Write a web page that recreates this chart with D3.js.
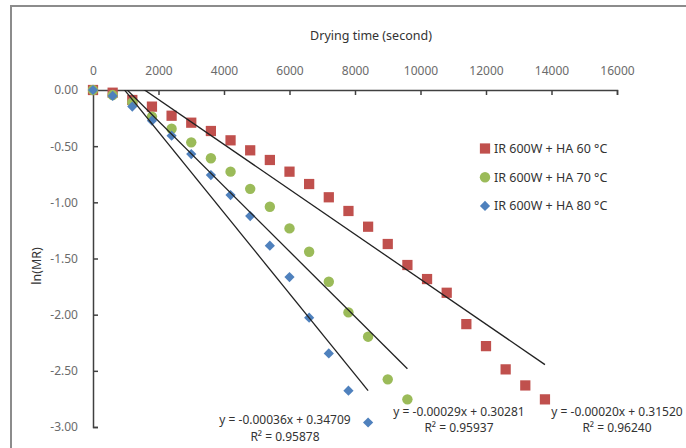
<!DOCTYPE html>
<html>
<head>
<meta charset="utf-8">
<script src="https://cdn.jsdelivr.net/npm/d3@7"></script>
<style>
  html, body { margin: 0; padding: 0; background: #fff; }
  svg { display: block; font-family: "Noto Sans", "Open Sans", sans-serif; }
</style>
</head>
<body>
<svg id="chart" width="686" height="448"></svg>
<script>
// Drying time (s) sampled every 600 s
const time60 = [0,600,1200,1800,2400,3000,3600,4200,4800,5400,6000,6600,7200,7800,8400,9000,9600,10200,10800,11400,12000,12600,13200,13800];
const lnMR60 = [0,-0.024,-0.089,-0.148,-0.229,-0.291,-0.365,-0.448,-0.537,-0.623,-0.727,-0.837,-0.955,-1.077,-1.217,-1.371,-1.558,-1.683,-1.805,-2.084,-2.280,-2.487,-2.630,-2.754];

const time70 = [0,600,1200,1800,2400,3000,3600,4200,4800,5400,6000,6600,7200,7800,8400,9000,9600];
const lnMR70 = [0,-0.045,-0.110,-0.237,-0.345,-0.466,-0.608,-0.727,-0.880,-1.039,-1.232,-1.440,-1.707,-1.980,-2.196,-2.576,-2.754];

const time80 = [0,600,1200,1800,2400,3000,3600,4200,4800,5400,6000,6600,7200,7800,8400];
const lnMR80 = [0,-0.053,-0.148,-0.273,-0.407,-0.570,-0.757,-0.935,-1.122,-1.386,-1.665,-2.027,-2.345,-2.677,-2.960];

const seriesNames = ["IR 600W + HA 60 °C", "IR 600W + HA 70 °C", "IR 600W + HA 80 °C"];
const seriesColors = ["#C0504D", "#9BBB59", "#4F81BD"];

// Linear trendline coefficients (y = slope * x + intercept) and R²
const slopes = [-0.00020, -0.00029, -0.00036];
const intercepts = [0.31520, 0.30281, 0.34709];
const rSquared = [0.96240, 0.95937, 0.95878];
const eqTexts = ["y = -0.00020x + 0.31520", "y = -0.00029x + 0.30281", "y = -0.00036x + 0.34709"];
const r2Texts = ["R² = 0.96240", "R² = 0.95937", "R² = 0.95878"];

const xTicks = [0,2000,4000,6000,8000,10000,12000,14000,16000];
const yTicks = [0,-0.5,-1,-1.5,-2,-2.5,-3];

const series = [
  { t: time60, v: lnMR60 },
  { t: time70, v: lnMR70 },
  { t: time80, v: lnMR80 }
];

const svg = d3.select("#chart");

// outer chart frame
svg.append("rect")
  .attr("x", 11).attr("y", 6)
  .attr("width", 700).attr("height", 460)
  .attr("fill", "none").attr("stroke", "#8c8c8c").attr("stroke-width", 2);

const x = d3.scaleLinear().domain([0, 16000]).range([93, 617]);
const y = d3.scaleLinear().domain([-3, 0]).range([427, 90]);

svg.append("defs").append("clipPath").attr("id", "plotClip")
  .append("rect")
  .attr("x", x(0)).attr("y", y(0))
  .attr("width", x(16000) - x(0)).attr("height", y(-3) - y(0));

// axes: x along the top (ticks pointing into the plot), y on the left
const xAxis = d3.axisTop(x).tickValues(xTicks).tickFormat(d => String(d))
  .tickSizeInner(-5).tickSizeOuter(-5).tickPadding(15);
const yAxis = d3.axisLeft(y).tickValues(yTicks).tickFormat(d => d.toFixed(2))
  .tickSizeInner(-5).tickSizeOuter(-5).tickPadding(15);

function styleAxis(g) {
  g.select(".domain").attr("stroke", "#404040").attr("stroke-width", 1.5);
  g.selectAll(".tick line").attr("stroke", "#404040").attr("stroke-width", 1.5);
  g.selectAll(".tick text").attr("fill", "#6b6b6b")
    .style("font-size", "12px").style("font-family", "'Noto Sans', sans-serif");
}

svg.append("g").attr("transform", `translate(0,${y(0)})`).call(xAxis).call(styleAxis);
svg.append("g").attr("transform", `translate(${x(0)},0)`).call(yAxis).call(styleAxis);

// axis titles
svg.append("text")
  .attr("x", 371).attr("y", 40)
  .attr("text-anchor", "middle")
  .attr("fill", "#333").style("font-size", "12.5px")
  .text("Drying time (second)");

svg.append("text")
  .attr("transform", "translate(41,266) rotate(-90)")
  .attr("text-anchor", "middle")
  .attr("fill", "#333").style("font-size", "12.5px")
  .text("ln(MR)");

// marker shapes per series
const symbols = [
  d3.symbol().type(d3.symbolSquare).size(105),
  d3.symbol().type(d3.symbolCircle).size(85),
  d3.symbol().type(d3.symbolSquare).size(52)
];
const symRotate = [0, 0, 45];

const plot = svg.append("g");
series.forEach((s, i) => {
  plot.append("g").selectAll("path")
    .data(s.t.map((t, j) => ({ t, v: s.v[j] })))
    .join("path")
    .attr("d", symbols[i]())
    .attr("transform", d => `translate(${x(d.t)},${y(d.v)}) rotate(${symRotate[i]})`)
    .attr("fill", seriesColors[i]);
});

// trendlines, clipped to the plot area
const trend = svg.append("g").attr("clip-path", "url(#plotClip)");
series.forEach((s, i) => {
  const tEnd = d3.max(s.t);
  trend.append("line")
    .attr("x1", x(0)).attr("y1", y(intercepts[i]))
    .attr("x2", x(tEnd)).attr("y2", y(slopes[i] * tEnd + intercepts[i]))
    .attr("stroke", "#222").attr("stroke-width", 1.3);
});

// trendline equations
const eqPos = [[617, 416, 432], [459, 416, 432], [285, 424, 441]];
series.forEach((s, i) => {
  const g = svg.append("g").attr("fill", "#333").style("font-size", "12px");
  g.append("text").attr("x", eqPos[i][0]).attr("y", eqPos[i][1])
    .attr("text-anchor", "middle").text(eqTexts[i]);
  g.append("text").attr("x", eqPos[i][0]).attr("y", eqPos[i][2])
    .attr("text-anchor", "middle").text(r2Texts[i]);
});

// legend
const legend = svg.append("g");
seriesNames.forEach((name, i) => {
  const cy = 148.5 + i * 28.7;
  legend.append("path")
    .attr("d", symbols[i]())
    .attr("transform", `translate(485,${cy}) rotate(${symRotate[i]})`)
    .attr("fill", seriesColors[i]);
  legend.append("text")
    .attr("x", 494).attr("y", cy + 4.5)
    .attr("fill", "#333").style("font-size", "12.5px")
    .text(name);
});
</script>
</body>
</html>
